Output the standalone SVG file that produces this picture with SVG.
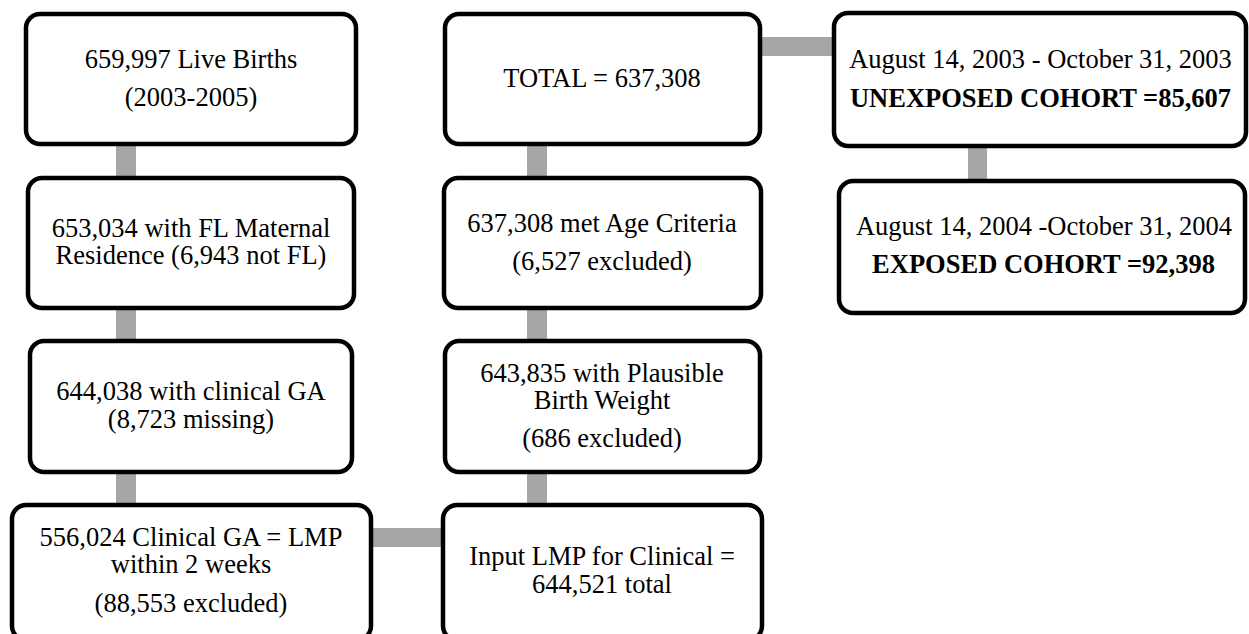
<svg xmlns="http://www.w3.org/2000/svg" width="1249" height="634" viewBox="0 0 1249 634">
<style>
.box{fill:#fff;stroke:#000;stroke-width:4.5}
.c{stroke:#a6a6a6;fill:none}
text{font-family:"Liberation Serif","Times New Roman",serif;font-size:26.5px;fill:#000;text-anchor:middle}
.b{font-weight:bold}
</style>
<rect width="1249" height="634" fill="#fff"/>
<g id="connectors">
<line class="c" x1="126" y1="144" x2="126" y2="178" stroke-width="20"/>
<line class="c" x1="126" y1="308" x2="126" y2="341" stroke-width="20"/>
<line class="c" x1="126" y1="472" x2="126" y2="505" stroke-width="20"/>
<line class="c" x1="371" y1="537.5" x2="443" y2="537.5" stroke-width="19"/>
<line class="c" x1="537" y1="472" x2="537" y2="505" stroke-width="20"/>
<line class="c" x1="537" y1="308" x2="537" y2="341" stroke-width="20"/>
<line class="c" x1="537" y1="144" x2="537" y2="178" stroke-width="20"/>
<line class="c" x1="760" y1="46.5" x2="834" y2="46.5" stroke-width="19"/>
<line class="c" x1="977.5" y1="146" x2="977.5" y2="181" stroke-width="19"/>
</g>
<g id="n1"><rect class="box" x="26" y="14" width="330" height="130" rx="14"/>
<text x="191" y="68">659,997 Live Births</text><text x="191" y="106">(2003-2005)</text></g>
<g id="n2"><rect class="box" x="28" y="178" width="326" height="130" rx="14"/>
<text x="191" y="237">653,034 with FL Maternal</text><text x="191" y="264">Residence (6,943 not FL)</text></g>
<g id="n3"><rect class="box" x="30" y="341" width="322" height="131" rx="14"/>
<text x="191" y="400">644,038 with clinical GA</text><text x="191" y="428">(8,723 missing)</text></g>
<g id="n4"><rect class="box" x="12" y="505" width="359" height="135" rx="14"/>
<text x="191" y="546">556,024 Clinical GA = LMP</text><text x="191" y="573">within 2 weeks</text><text x="191" y="612">(88,553 excluded)</text></g>
<g id="n5"><rect class="box" x="445" y="14" width="315" height="130" rx="14"/>
<text x="602" y="87">TOTAL = 637,308</text></g>
<g id="n6"><rect class="box" x="444" y="178" width="317" height="130" rx="14"/>
<text x="602" y="232">637,308 met Age Criteria</text><text x="602" y="270">(6,527 excluded)</text></g>
<g id="n7"><rect class="box" x="445" y="341" width="315" height="131" rx="14"/>
<text x="602" y="382">643,835 with Plausible</text><text x="602" y="409">Birth Weight</text><text x="602" y="447">(686 excluded)</text></g>
<g id="n8"><rect class="box" x="443" y="505" width="319" height="135" rx="14"/>
<text x="602" y="565">Input LMP for Clinical =</text><text x="602" y="593">644,521 total</text></g>
<g id="n9"><rect class="box" x="834" y="13" width="412" height="133" rx="14"/>
<text x="1040.5" y="68">August 14, 2003 - October 31, 2003</text><text class="b" x="1040.5" y="107">UNEXPOSED COHORT =85,607</text></g>
<g id="n10"><rect class="box" x="839" y="181" width="406" height="132" rx="14"/>
<text x="1044" y="235">August 14, 2004 -October 31, 2004</text><text class="b" x="1043.5" y="273">EXPOSED COHORT =92,398</text></g>
</svg>
